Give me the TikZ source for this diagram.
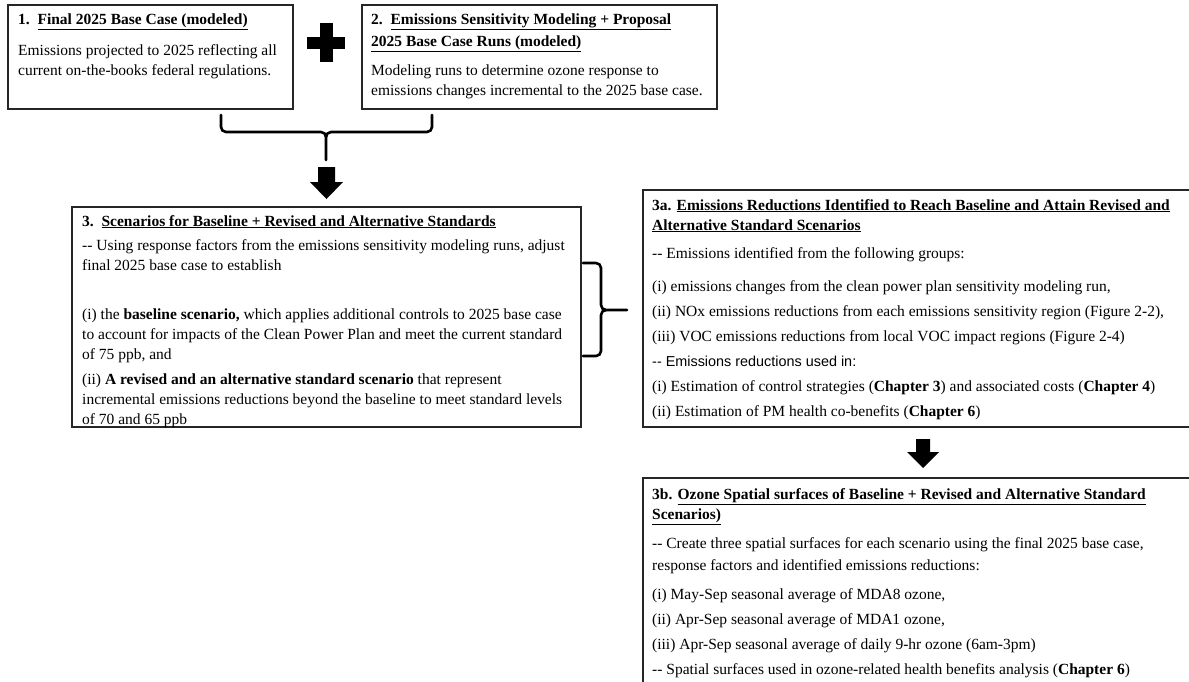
\documentclass[tikz,border=0pt]{standalone}
\usepackage{fontspec}
\setmainfont{Liberation Serif}
\newfontfamily\arialfont{Liberation Sans}
\newcommand\myul[1]{\underline{#1}}
\newcommand\dashdash{-{}-}
\begin{document}
\begin{tikzpicture}[x=1pt,y=-1pt,
  box/.style={draw=black!85, line width=1.2pt},
  txt/.style={anchor=base west, inner sep=0pt, font=\fontsize{15.5}{20}\selectfont},
  bracepath/.style={line width=2.6pt, line cap=round, line join=round},
  blockarrow/.style={fill=black}]
\useasboundingbox (0,0) rectangle (1189,681);
\begin{scope}
\clip (0,0) rectangle (1189,681);
% boxes
\draw[box] (8,5) rectangle (293,109);
\draw[box] (362,5) rectangle (717,109);
\draw[box] (72,207) rectangle (581,427);
\draw[box] (643,190) rectangle (1196,427);
\draw[box] (643,478) rectangle (1196,700);
\end{scope}

% plus sign
\fill (319.5,23) rectangle (332.5,62);
\fill (307,36.5) rectangle (345,49);

% brace under boxes 1 and 2
\draw[bracepath] (221,115) -- (221,127) to[out=-90,in=180] (226,132) -- (321,132)
  to[out=0,in=90] (326,137) -- (326,160);
\draw[bracepath] (432,115) -- (432,127) to[out=-90,in=0] (427,132) -- (331,132)
  to[out=180,in=90] (326,137);
% block arrow 1
\fill[blockarrow] (318,167) -- (335,167) -- (335,182) -- (343,182) -- (326.5,199) -- (310,182) -- (318,182) -- cycle;

% brace right of box 3
\draw[bracepath] (583,263) -- (596,263) to[out=0,in=90] (601,268) -- (601,305)
  to[out=-90,in=180] (606,310) -- (627,310);
\draw[bracepath] (583,356) -- (596,356) to[out=0,in=-90] (601,351) -- (601,315)
  to[out=90,in=180] (606,310);

% block arrow 2
\fill[blockarrow] (916,439) -- (930,439) -- (930,452) -- (939,452) -- (923,468) -- (907,452) -- (916,452) -- cycle;

% texts
\node[txt] (t1) at (18,24) {\begin{tabular}[t]{@{}l@{}}
\textbf{1.\ \ \myul{Final 2025 Base Case (modeled)}}\\[11pt]
Emissions projected to 2025 reflecting all\\
current on-the-books federal regulations.
\end{tabular}};

\node[txt] (t2) at (371,24) {\begin{tabular}[t]{@{}l@{}}
\textbf{2.\ \ \myul{Emissions Sensitivity Modeling + Proposal}}\\[2pt]
\textbf{\myul{2025 Base Case Runs (modeled)}}\\[9pt]
Modeling runs to determine ozone response to\\
emissions changes incremental to the 2025 base case.
\end{tabular}};

\node[txt] (t3) at (82,226) {\begin{tabular}[t]{@{}l@{}}
\textbf{3.\ \ \myul{Scenarios for Baseline + Revised and Alternative Standards}}\\[4pt]
\dashdash{} Using response factors from the emissions sensitivity modeling runs, adjust\\
final 2025 base case to establish\\[29pt]
(i) the \textbf{baseline scenario,} which applies additional controls to 2025 base case\\
to account for impacts of the Clean Power Plan and meet the current standard\\
of 75 ppb, and\\[5pt]
(ii) \textbf{A revised and an alternative standard scenario} that represent\\
incremental emissions reductions beyond the baseline to meet standard levels\\
of 70 and 65 ppb
\end{tabular}};

\node[txt] (t3a) at (652,210) {\begin{tabular}[t]{@{}l@{}}
\textbf{3a. \myul{Emissions Reductions Identified to Reach Baseline and Attain Revised and}}\\
\textbf{\myul{Alternative Standard Scenarios}}\\[8pt]
\dashdash{} Emissions identified from the following groups:\\[13pt]
(i) emissions changes from the clean power plan sensitivity modeling run,\\[5pt]
(ii) NOx emissions reductions from each emissions sensitivity region (Figure 2-2),\\[5pt]
(iii) VOC emissions reductions from local VOC impact regions (Figure 2-4)\\[5pt]
{\arialfont\fontsize{14.4}{20}\selectfont \dashdash{} Emissions reductions used in:}\\[5pt]
(i) Estimation of control strategies (\textbf{Chapter 3}) and associated costs (\textbf{Chapter 4})\\[5pt]
(ii) Estimation of PM health co-benefits (\textbf{Chapter 6})
\end{tabular}};

\node[txt] (t3b) at (652,499) {\begin{tabular}[t]{@{}l@{}}
\textbf{3b. \myul{Ozone Spatial surfaces of Baseline + Revised and Alternative Standard}}\\
\textbf{\myul{Scenarios)}}\\[9pt]
\dashdash{} Create three spatial surfaces for each scenario using the final 2025 base case,\\[2pt]
response factors and identified emissions reductions:\\[9pt]
(i) May-Sep seasonal average of MDA8 ozone,\\[5pt]
(ii) Apr-Sep seasonal average of MDA1 ozone,\\[5pt]
(iii) Apr-Sep seasonal average of daily 9-hr ozone (6am-3pm)\\[5pt]
\dashdash{} Spatial surfaces used in ozone-related health benefits analysis (\textbf{Chapter 6})
\end{tabular}};
\end{tikzpicture}
\end{document}
